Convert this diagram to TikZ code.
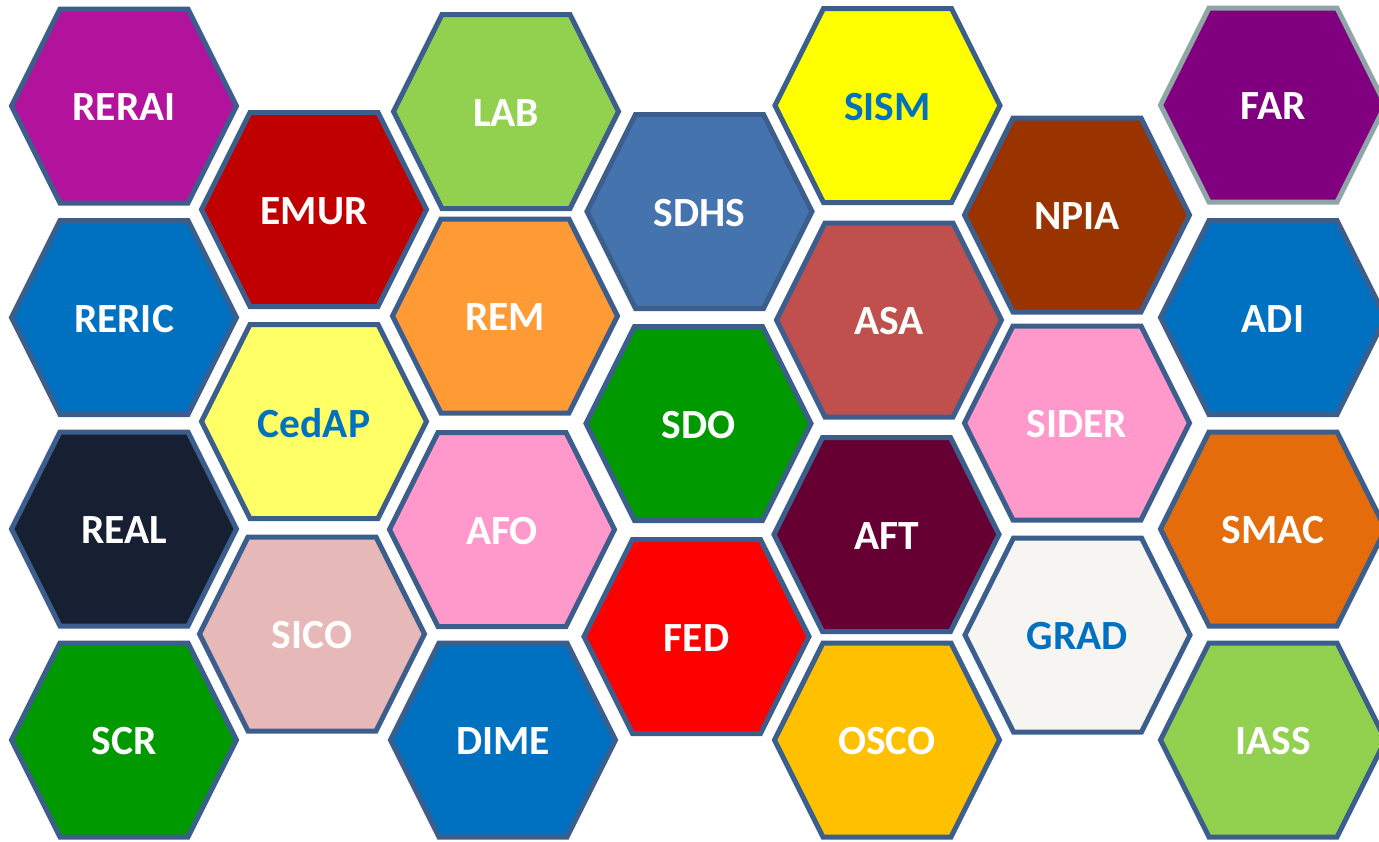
\documentclass[tikz,border=0pt]{standalone}
\usepackage{fontspec}
\setmainfont{Carlito}
\usetikzlibrary{positioning}

\definecolor{edge}{HTML}{3C5E8C}
\definecolor{graybd}{HTML}{8FA6A6}
\definecolor{txtblue}{HTML}{0070C0}
\definecolor{cRERAI}{HTML}{B3129C}
\definecolor{cEMUR}{HTML}{C00000}
\definecolor{cLAB}{HTML}{92D050}
\definecolor{cSDHS}{HTML}{4573AD}
\definecolor{cSISM}{HTML}{FFFF00}
\definecolor{cNPIA}{HTML}{993300}
\definecolor{cFAR}{HTML}{800080}
\definecolor{cRERIC}{HTML}{0070C0}
\definecolor{cREM}{HTML}{FF9A35}
\definecolor{cASA}{HTML}{C0504D}
\definecolor{cADI}{HTML}{0070C0}
\definecolor{cCedAP}{HTML}{FFFF66}
\definecolor{cSDO}{HTML}{009900}
\definecolor{cSIDER}{HTML}{FF99CC}
\definecolor{cREAL}{HTML}{162032}
\definecolor{cAFO}{HTML}{FF99CC}
\definecolor{cAFT}{HTML}{660033}
\definecolor{cSMAC}{HTML}{E46C0A}
\definecolor{cSICO}{HTML}{E6B8B7}
\definecolor{cFED}{HTML}{FF0000}
\definecolor{cGRAD}{HTML}{F7F5F2}
\definecolor{cSCR}{HTML}{009900}
\definecolor{cDIME}{HTML}{0070C0}
\definecolor{cOSCO}{HTML}{FFC000}
\definecolor{cIASS}{HTML}{92D050}

\tikzset{
  hexline/.style={line width=5pt, line join=miter},
  hextext/.style={font=\fontsize{41.5}{50}\selectfont\bfseries, inner sep=0pt, yshift=-1.5pt}
}

\begin{document}
\begin{tikzpicture}[x=1pt,y=-1pt]
  \useasboundingbox (0,0) rectangle (1379,841);
  % one cell: centre x / centre y / fill / text / border / name
  \foreach \cx/\cy/\bg/\fg/\bd/\lbl in {
      124/106/cRERAI/white/edge/RERAI, 124/317.5/cRERIC/white/edge/RERIC,
      124/529/cREAL/white/edge/REAL, 124/740/cSCR/white/edge/SCR,
      314/209.5/cEMUR/white/edge/EMUR, 314/421.5/cCedAP/txtblue/edge/CedAP,
      312/634/cSICO/white/edge/SICO,
      506/111.5/cLAB/white/edge/LAB, 505/316/cREM/white/edge/REM,
      502/529.5/cAFO/white/edge/AFO, 503/740/cDIME/white/edge/DIME,
      699.5/211.5/cSDHS/white/edge/SDHS, 698.5/423.5/cSDO/white/edge/SDO,
      696.5/636.5/cFED/white/edge/FED,
      887.5/105.5/cSISM/txtblue/edge/SISM, 889/320/cASA/white/edge/ASA,
      886.5/534.5/cAFT/white/edge/AFT, 887/740/cOSCO/white/edge/OSCO,
      1077/215/cNPIA/white/edge/NPIA, 1077/423/cSIDER/white/edge/SIDER,
      1077.5/635/cGRAD/txtblue/edge/GRAD,
      1273/105/cFAR/white/graybd/FAR, 1273/317.5/cADI/white/edge/ADI,
      1273/529/cSMAC/white/edge/SMAC, 1273/740/cIASS/white/edge/IASS} {
    \filldraw[hexline, draw=\bd, fill=\bg] (\cx,\cy)
      +(-112.5,0) -- +(-64,-97) -- +(64,-97) -- +(112.5,0) -- +(64,97) -- +(-64,97) -- cycle;
    \node[hextext, text=\fg] (\lbl) at (\cx,\cy) {\lbl};
  }
\end{tikzpicture}
\end{document}
